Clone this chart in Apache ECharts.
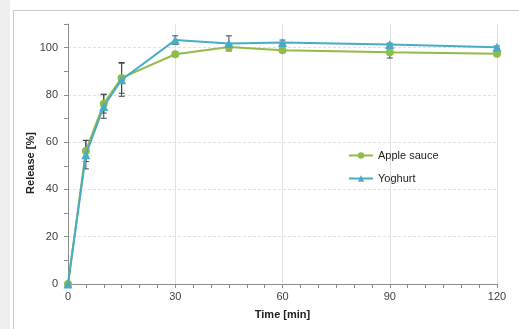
<!DOCTYPE html>
<html>
<head>
<meta charset="utf-8">
<script src="https://cdn.jsdelivr.net/npm/echarts@6/dist/echarts.min.js"></script>
<style>
  html, body { margin: 0; padding: 0; background: #fff; }
  #chart { width: 519px; height: 329px; }
</style>
</head>
<body>
<div id="chart"></div>
<script>
// time points [min]
const times = [0, 5, 10, 15, 30, 45, 60, 90, 120]
// release [%]
const appleSauce = [0, 56.3, 76.3, 87.2, 97.2, 100.3, 98.9, 98, 97.4]
const yoghurt = [0, 54.7, 75.1, 86.4, 103.2, 101.8, 102.2, 101.3, 100.2]
// error bar half widths (+/-)
const appleErr = [0, 4.5, 4, 6.5, 0.8, 0.5, 0.8, 2.4, 0.6]
const yoghurtErr = [0, 6, 5, 7, 1.8, 3.2, 1, 0.6, 0.5]

const green = '#8fbc4b'
const blue = '#4aabc5'

function pairs(vals) {
  return times.map((t, i) => [t, vals[i]])
}

function errData(vals, errs) {
  return times.map((t, i) => [t, vals[i] - errs[i], vals[i] + errs[i]])
}

// whiskers with little caps
function renderErr(params, api) {
  const lo = api.coord([api.value(0), api.value(1)])
  const hi = api.coord([api.value(0), api.value(2)])
  const w = 3
  const style = { stroke: '#444', lineWidth: 1 }
  return {
    type: 'group',
    children: [
      { type: 'line', shape: { x1: lo[0], y1: lo[1], x2: hi[0], y2: hi[1] }, style },
      { type: 'line', shape: { x1: lo[0] - w, y1: lo[1], x2: lo[0] + w, y2: lo[1] }, style },
      { type: 'line', shape: { x1: hi[0] - w, y1: hi[1], x2: hi[0] + w, y2: hi[1] }, style }
    ]
  }
}

const chart = echarts.init(document.getElementById('chart'), null, { renderer: 'canvas' })

const labelStyle = { color: '#404040', fontSize: 11, fontFamily: 'Liberation Sans, Arial, sans-serif' }

chart.setOption({
  animation: false,
  graphic: [
    { type: 'rect', left: 0, top: 0, shape: { width: 10, height: 329 }, style: { fill: '#efefef' }, z: -10 },
    { type: 'rect', left: 11, top: 8, shape: { width: 520, height: 330 }, style: { fill: 'none', stroke: '#c8c8c8', lineWidth: 1 }, z: -10 },
    {
      type: 'text', x: 31, y: 163, rotation: Math.PI / 2, z: 10,
      style: { text: 'Release [%]', fill: '#222', font: 'bold 11px Liberation Sans, Arial, sans-serif', align: 'center', verticalAlign: 'middle' }
    }
  ],
  grid: { left: 68, right: 22, top: 24, bottom: 45 },
  legend: {
    orient: 'vertical',
    left: 343,
    top: 145,
    itemGap: 12,
    itemWidth: 24,
    itemHeight: 8,
    textStyle: { color: '#222', fontSize: 11, fontFamily: 'Liberation Sans, Arial, sans-serif' },
    data: ['Apple sauce', 'Yoghurt']
  },
  xAxis: {
    type: 'value',
    min: 0,
    max: 120,
    interval: 30,
    name: 'Time [min]',
    nameLocation: 'middle',
    nameGap: 25,
    nameTextStyle: { color: '#222', fontWeight: 'bold', fontSize: 11, fontFamily: 'Liberation Sans, Arial, sans-serif' },
    axisLine: { show: true, lineStyle: { color: '#8c8c8c' } },
    axisTick: { show: true, length: 4, lineStyle: { color: '#8c8c8c' } },
    minorTick: { show: true, splitNumber: 6, length: 4, lineStyle: { color: '#8c8c8c' } },
    axisLabel: { ...labelStyle, margin: 7 },
    splitLine: { show: true, showMinLine: false, lineStyle: { color: '#e2e2e2', type: 'solid' } }
  },
  yAxis: {
    type: 'value',
    min: 0,
    max: 110,
    interval: 20,
    axisLine: { show: true, lineStyle: { color: '#8c8c8c' } },
    axisTick: { show: true, length: 4, lineStyle: { color: '#8c8c8c' } },
    minorTick: { show: true, splitNumber: 2, length: 4, lineStyle: { color: '#8c8c8c' } },
    axisLabel: { ...labelStyle, margin: 10, formatter: v => (v > 100 ? '' : v) },
    splitLine: { show: true, showMinLine: false, showMaxLine: false, lineStyle: { color: '#e0e0e0', type: [3, 2] } }
  },
  series: [
    {
      type: 'custom',
      renderItem: renderErr,
      data: errData(appleSauce, appleErr),
      encode: { x: 0, y: [1, 2] },
      z: 1
    },
    {
      type: 'custom',
      renderItem: renderErr,
      data: errData(yoghurt, yoghurtErr),
      encode: { x: 0, y: [1, 2] },
      z: 1
    },
    {
      name: 'Yoghurt',
      type: 'line',
      data: pairs(yoghurt),
      symbol: 'triangle',
      symbolSize: 9,
      color: blue,
      lineStyle: { width: 2 },
      z: 3
    },
    {
      name: 'Apple sauce',
      type: 'line',
      data: pairs(appleSauce),
      symbol: 'circle',
      symbolSize: 8,
      color: green,
      lineStyle: { width: 2 },
      z: 2
    }
  ]
})
</script>
</body>
</html>
